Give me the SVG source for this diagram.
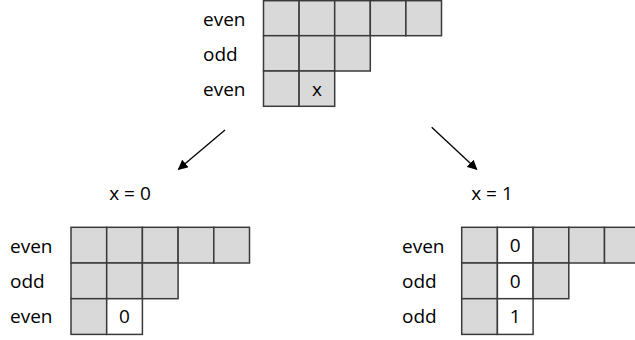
<svg xmlns="http://www.w3.org/2000/svg" width="635" height="340" viewBox="0 0 635 340">
<defs>
<style>
.c{fill:#d9d9d9;stroke:#3a3a3a;stroke-width:1.5}
.w{fill:#ffffff;stroke:#3a3a3a;stroke-width:1.5}
.t{font-family:"Open Sans","DejaVu Sans",sans-serif;font-size:19px;fill:#000}
.m{text-anchor:middle}
.a{stroke:#000;stroke-width:1.3;fill:none}
</style>
<marker id="ah" viewBox="0 0 10 10" refX="9" refY="5" markerWidth="10" markerHeight="10" markerUnits="userSpaceOnUse" orient="auto">
<path d="M0,0 L10,5 L0,10 Z" fill="#000"/>
</marker>
</defs>
<rect width="635" height="340" fill="#fff"/>
<g id="top">
<text class="t" x="203" y="26">even</text>
<text class="t" x="203" y="61">odd</text>
<text class="t" x="203" y="96">even</text>
<rect class="c" x="263.5" y="0.7" width="35.6" height="35"/>
<rect class="c" x="299.1" y="0.7" width="35.6" height="35"/>
<rect class="c" x="334.7" y="0.7" width="35.6" height="35"/>
<rect class="c" x="370.3" y="0.7" width="35.6" height="35"/>
<rect class="c" x="405.9" y="0.7" width="35.6" height="35"/>
<rect class="c" x="263.5" y="35.7" width="35.6" height="35.3"/>
<rect class="c" x="299.1" y="35.7" width="35.6" height="35.3"/>
<rect class="c" x="334.7" y="35.7" width="35.6" height="35.3"/>
<rect class="c" x="263.5" y="71" width="35.6" height="35.3"/>
<rect class="c" x="299.1" y="71" width="35.6" height="35.3"/>
<text class="t m" x="317" y="96">x</text>
</g>
<g id="connectors">
<line class="a" x1="225" y1="130" x2="178.5" y2="169.3" marker-end="url(#ah)"/>
<line class="a" x1="431.7" y1="127.3" x2="476.7" y2="169.3" marker-end="url(#ah)"/>
</g>
<g id="label-x0"><text class="t m" x="130" y="200">x = 0</text></g>
<g id="label-x1"><text class="t m" x="492" y="200">x = 1</text></g>
<g id="left">
<text class="t" x="10" y="253">even</text>
<text class="t" x="10" y="288">odd</text>
<text class="t" x="10" y="323">even</text>
<rect class="c" x="71" y="227.3" width="35.7" height="35.7"/>
<rect class="c" x="106.7" y="227.3" width="35.7" height="35.7"/>
<rect class="c" x="142.4" y="227.3" width="35.7" height="35.7"/>
<rect class="c" x="178.1" y="227.3" width="35.7" height="35.7"/>
<rect class="c" x="213.8" y="227.3" width="35.7" height="35.7"/>
<rect class="c" x="71" y="263" width="35.7" height="35.7"/>
<rect class="c" x="106.7" y="263" width="35.7" height="35.7"/>
<rect class="c" x="142.4" y="263" width="35.7" height="35.7"/>
<rect class="c" x="71" y="298.7" width="35.7" height="35.7"/>
<rect class="w" x="106.7" y="298.7" width="35.7" height="35.7"/>
<text class="t m" x="124.5" y="323">0</text>
</g>
<g id="right">
<text class="t" x="402" y="253">even</text>
<text class="t" x="402" y="288">odd</text>
<text class="t" x="402" y="323">odd</text>
<rect class="c" x="461.7" y="227.3" width="35.7" height="35.7"/>
<rect class="w" x="497.4" y="227.3" width="35.7" height="35.7"/>
<rect class="c" x="533.1" y="227.3" width="35.7" height="35.7"/>
<rect class="c" x="568.8" y="227.3" width="35.7" height="35.7"/>
<rect class="c" x="604.5" y="227.3" width="35.7" height="35.7"/>
<rect class="c" x="461.7" y="263" width="35.7" height="35.7"/>
<rect class="w" x="497.4" y="263" width="35.7" height="35.7"/>
<rect class="c" x="533.1" y="263" width="35.7" height="35.7"/>
<rect class="c" x="461.7" y="298.7" width="35.7" height="35.7"/>
<rect class="w" x="497.4" y="298.7" width="35.7" height="35.7"/>
<text class="t m" x="515.2" y="252">0</text>
<text class="t m" x="515.2" y="288">0</text>
<text class="t m" x="515.2" y="323">1</text>
</g>
</svg>
